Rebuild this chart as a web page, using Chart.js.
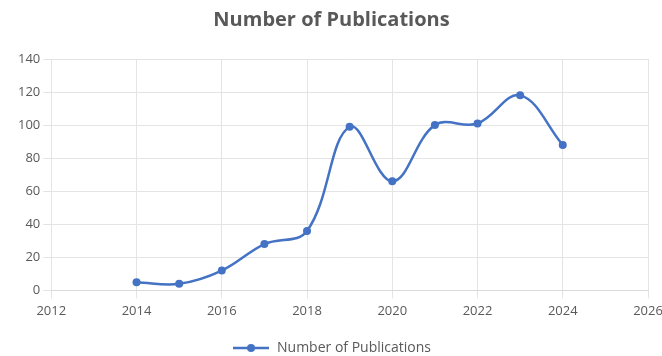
<!DOCTYPE html>
<html>
<head>
<meta charset="utf-8">
<script src="https://cdn.jsdelivr.net/npm/chart.js@4"></script>
<style>
  html, body { margin: 0; padding: 0; background: #fff; }
  #wrap { width: 662px; height: 356px; }
</style>
</head>
<body>
<div id="wrap"><canvas id="pubChart"></canvas></div>
<script>
// Publications per year
const years = [2014, 2015, 2016, 2017, 2018, 2019, 2020, 2021, 2022, 2023, 2024];
const publications = [5, 4, 12, 28, 36, 99, 66, 100, 101, 118, 88];
const xTicks = [2012, 2014, 2016, 2018, 2020, 2022, 2024, 2026];
const yTicks = [0, 20, 40, 60, 80, 100, 120, 140];

const blue = '#4472c4';
const grey = '#595959';

// legend marker: line with a dot in the middle
const marker = document.createElement('canvas');
marker.width = 36;
marker.height = 10;
const mctx = marker.getContext('2d');
mctx.strokeStyle = blue;
mctx.lineWidth = 2.5;
mctx.beginPath();
mctx.moveTo(0, 5);
mctx.lineTo(36, 5);
mctx.stroke();
mctx.fillStyle = blue;
mctx.beginPath();
mctx.arc(18, 5, 4, 0, Math.PI * 2);
mctx.fill();

const ctx = document.getElementById('pubChart').getContext('2d');
new Chart(ctx, {
    type: 'line',
    data: {
        datasets: [{
            label: 'Number of Publications',
            data: years.map((y, i) => ({ x: y, y: publications[i] })),
            borderColor: blue,
            backgroundColor: blue,
            borderWidth: 2.5,
            tension: 0.38,
            pointRadius: 4,
            pointBorderWidth: 0,
            pointBackgroundColor: blue
        }]
    },
    options: {
        responsive: true,
        maintainAspectRatio: false,
        animation: false,
        layout: { autoPadding: false, padding: { left: 15, right: 14, top: 2, bottom: -9 } },
        plugins: {
            title: {
                display: true,
                text: 'Number of Publications',
                color: grey,
                font: { family: 'Open Sans', size: 20, weight: 'bold' },
                padding: { top: 6, bottom: 27 }
            },
            legend: {
                position: 'bottom',
                labels: {
                    color: grey,
                    font: { family: 'Open Sans', size: 14 },
                    usePointStyle: true,
                    pointStyleWidth: 38,
                    padding: 4,
                    generateLabels: chart => {
                        const items = Chart.defaults.plugins.legend.labels.generateLabels(chart);
                        items.forEach(it => { it.pointStyle = marker; });
                        return items;
                    }
                }
            },
            tooltip: { enabled: false }
        },
        scales: {
            x: {
                type: 'linear',
                min: xTicks[0],
                max: xTicks[xTicks.length - 1],
                afterBuildTicks: axis => { axis.ticks = xTicks.map(v => ({ value: v })); },
                afterFit: axis => {
                    axis.height += 13;
                    axis.paddingRight = 0;
                },
                ticks: {
                    color: grey,
                    padding: 5,
                    font: { family: 'Open Sans', size: 13 },
                    callback: v => String(v)
                },
                grid: { color: '#e4e4e4' },
                border: { color: '#d9d9d9' }
            },
            y: {
                min: yTicks[0],
                max: yTicks[yTicks.length - 1],
                afterBuildTicks: axis => { axis.ticks = yTicks.map(v => ({ value: v })); },
                ticks: {
                    color: grey,
                    font: { family: 'Open Sans', size: 13 }
                },
                grid: { color: '#e4e4e4' },
                border: { display: false }
            }
        }
    }
});
</script>
</body>
</html>
